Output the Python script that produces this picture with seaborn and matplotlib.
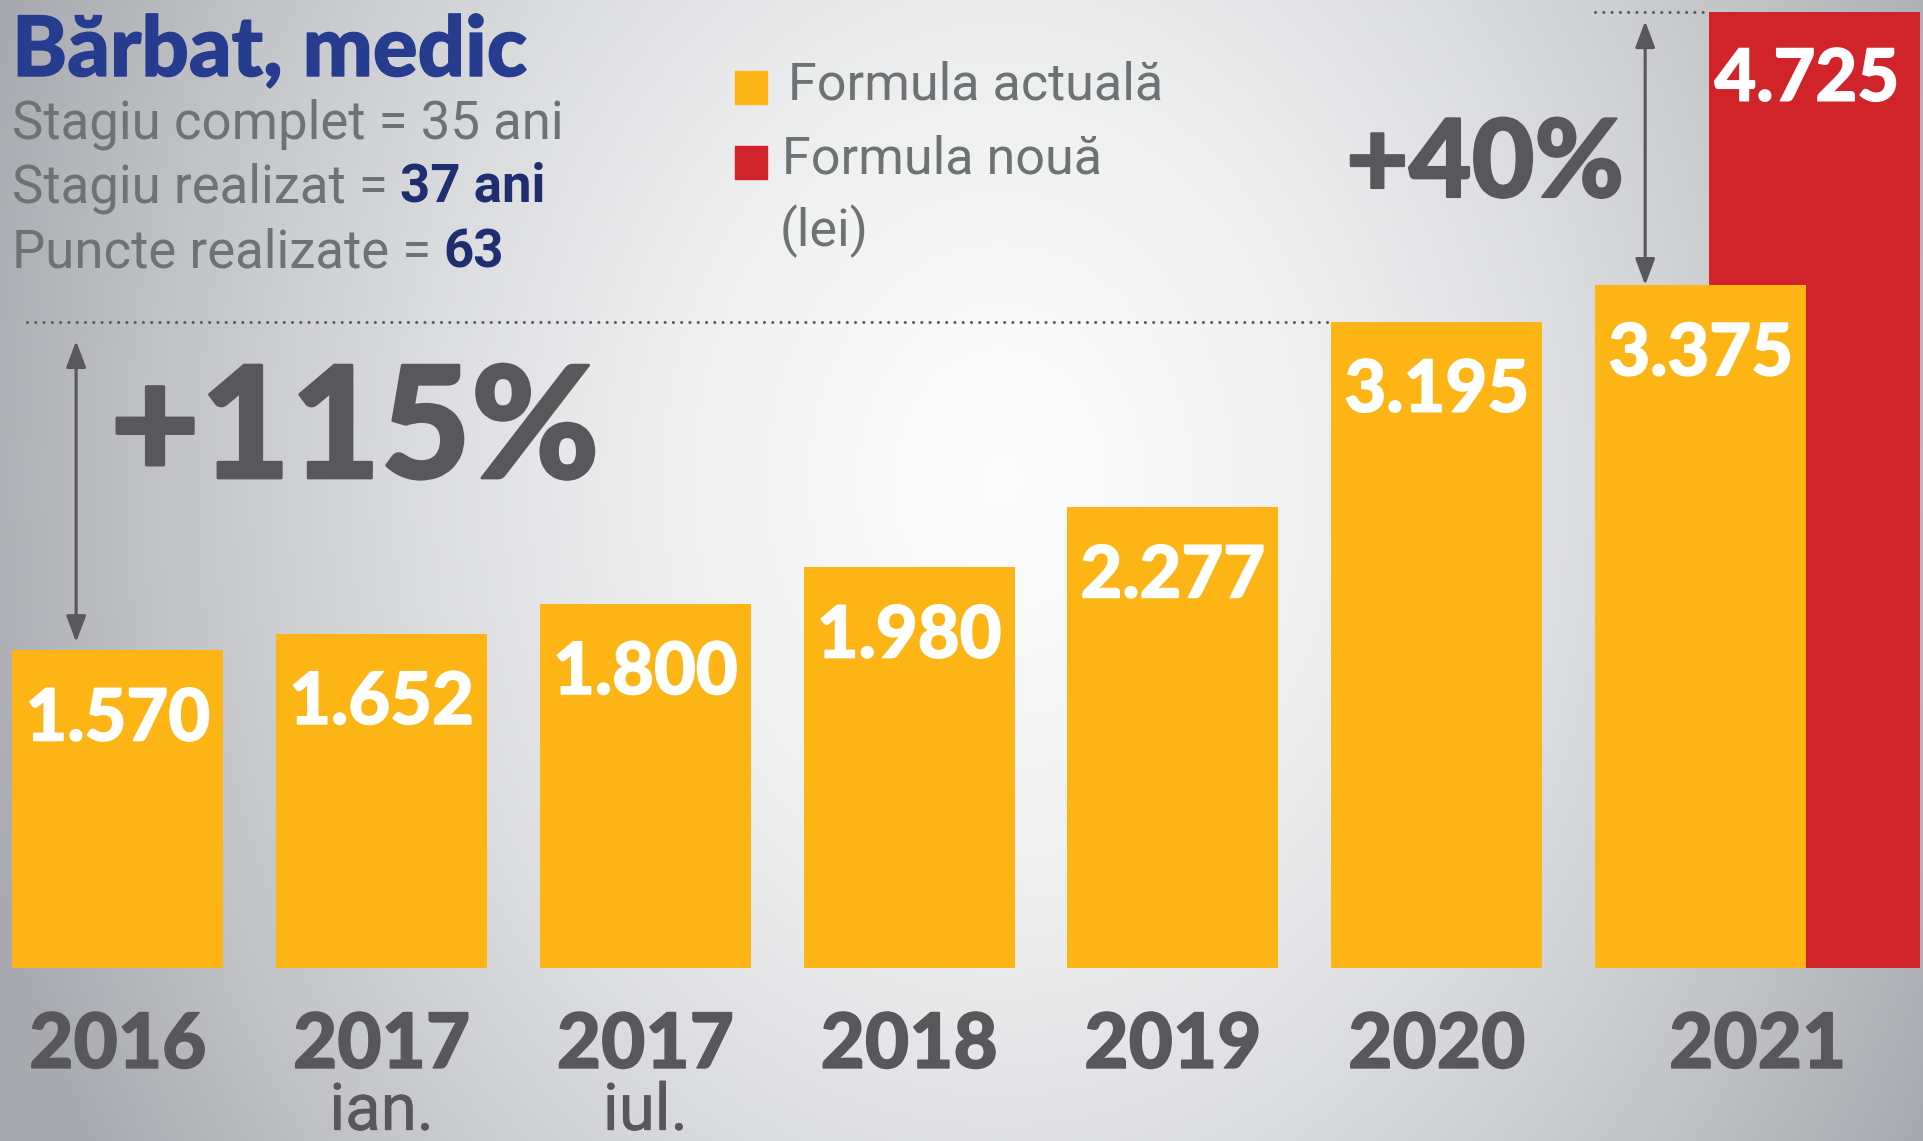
import numpy as np
import matplotlib
matplotlib.use("Agg")
import matplotlib.pyplot as plt
import matplotlib.patheffects as pe
import seaborn as sns
from matplotlib import font_manager

# date (lei)
perioade = ["2016", "2017 ian.", "2017 iul.", "2018", "2019", "2020", "2021"]
ani = ["2016", "2017", "2017", "2018", "2019", "2020", "2021"]
luni = ["", "ian.", "iul.", "", "", "", ""]
formula_actuala = [1570, 1652, 1800, 1980, 2277, 3195, 3375]
formula_noua = 4725

W, H = 1924, 1141
GALBEN = "#fdb515"
ROSU = "#d1232a"
GRI = "#58585a"
GRI_TEXT = "#6d7375"
ALBASTRU = "#253c8f"
BLEUMARIN = "#1f2e6e"

fonturi = font_manager.fontManager.ttflist
disponibile = {f.name for f in fonturi}


def alege(*nume):
    for n in nume:
        if n in disponibile:
            return n
    return "DejaVu Sans"


FONT = alege("Roboto", "Open Sans", "Noto Sans")
grele = [n for n in ("Lato", "Roboto", "Open Sans", "Noto Sans")
         if any(f.name == n and f.weight >= 800 for f in fonturi)]
FONT_GROS = grele[0] if grele else FONT
ingrosare = 1.0 if grele else 3.0


def eticheta(v):
    return f"{v:,}".replace(",", ".")


def P(x, y):
    # pixeli din stanga-sus -> coordonate figura
    return x / W, 1 - y / H


def gros(culoare, k=1.0):
    return [pe.withStroke(linewidth=ingrosare * k, foreground=culoare)]


sns.set_style("white")
plt.rcParams["font.family"] = [FONT, "DejaVu Sans"]

fig = plt.figure(figsize=(W / 100, H / 100), dpi=100)

# fundal in degrade gri
yy, xx = np.mgrid[0:H, 0:W]
d = np.sqrt(((xx - 1000) / 1050) ** 2 + ((yy - 480) / 1300) ** 2)
t = np.clip(d, 0, 1) ** 1.6
alb = np.array([0.985, 0.985, 0.985])
gri = np.array([0.66, 0.67, 0.69])
img = alb * (1 - t[..., None]) + gri * t[..., None]
bg = fig.add_axes([0, 0, 1, 1])
bg.imshow(img, aspect="auto")
bg.axis("off")

ax = fig.add_axes([0, 0, 1, 1], facecolor="none")
dx_rosu = 0.433
ax.bar(len(perioade) - 1 + dx_rosu, formula_noua, width=0.8, color=ROSU,
       linewidth=0, zorder=2)
sns.barplot(x=perioade, y=formula_actuala, color=GALBEN, saturation=1,
            width=0.8, linewidth=0, ax=ax, zorder=3)
ax.set_xlim(-0.4466, 6.847)
ax.set_ylim(-855, 4784)
ax.axis("off")

# valori in bare
for i, v in enumerate(formula_actuala):
    ax.annotate(eticheta(v), xy=(i, v), xytext=(0, -65), textcoords="offset points",
                ha="center", va="baseline", color="white", fontsize=52,
                family=FONT_GROS, fontweight=900, zorder=5,
                path_effects=gros("white"))
ax.annotate(eticheta(formula_noua), xy=(len(perioade) - 1 + dx_rosu - 0.03, formula_noua),
            xytext=(0, -64), textcoords="offset points", ha="center", va="baseline",
            color="white", fontsize=52, family=FONT_GROS, fontweight=900, zorder=5,
            path_effects=gros("white"))

# etichete ani
for i, (an, luna) in enumerate(zip(ani, luni)):
    x = i if i < len(ani) - 1 else i + dx_rosu / 2
    ax.text(x, -494, an, ha="center", va="baseline", fontsize=55,
            family=FONT_GROS, fontweight=900, color=GRI, path_effects=gros(GRI))
    if luna:
        ax.text(x, -800, luna, ha="center", va="baseline", fontsize=47,
                color=GRI, path_effects=gros(GRI, 0.4))

# linii punctate si sageti
punct = dict(color=GRI, linewidth=2.2, linestyle=(0, (0.01, 2.7)),
             dash_capstyle="round", zorder=4)
ax.plot([-0.345, 5 - 0.4], [formula_actuala[5]] * 2, **punct)
ax.plot([6 - 0.4, 6 + dx_rosu - 0.4], [formula_noua] * 2, **punct)

sageata = dict(arrowstyle="<|-|>,head_length=1.6,head_width=0.6", color=GRI,
               lw=2.2, shrinkA=0, shrinkB=0, mutation_scale=10)
ax.annotate("", xy=(-0.158, formula_actuala[0] + 40),
            xytext=(-0.158, formula_actuala[5] - 96), arrowprops=sageata)
ax.annotate("", xy=(5.79, formula_actuala[6]),
            xytext=(5.79, formula_noua - 45), arrowprops=sageata)

fig.text(*P(110, 478), "+115%", ha="left", va="baseline", fontsize=112,
         family=FONT_GROS, fontweight=900, color=GRI, path_effects=gros(GRI, 2))
fig.text(*P(1346, 197), "+40%", ha="left", va="baseline", fontsize=78,
         family=FONT_GROS, fontweight=900, color=GRI, path_effects=gros(GRI, 1.5))

# titlu si descriere
fig.text(*P(12, 76), "Bărbat, medic", ha="left", va="baseline", fontsize=60,
         family=FONT_GROS, fontweight=900, color=ALBASTRU,
         path_effects=gros(ALBASTRU))

renderer = fig.canvas.get_renderer()


def linie(y, parti):
    x = 12
    for text, bold in parti:
        t = fig.text(*P(x, y), text, ha="left", va="baseline", fontsize=38,
                     fontweight="bold" if bold else "normal",
                     color=BLEUMARIN if bold else GRI_TEXT)
        x = t.get_window_extent(renderer=renderer).x1 + 12


linie(138, [("Stagiu complet = 35 ani", False)])
linie(202, [("Stagiu realizat =", False), ("37 ani", True)])
linie(267, [("Puncte realizate =", False), ("63", True)])

# legenda
for y0, culoare in [(71, GALBEN), (146, ROSU)]:
    fig.patches.append(plt.Rectangle(P(735, y0 + 33), 32 / W, 33 / H,
                                     transform=fig.transFigure, color=culoare))
fig.text(*P(788, 99), "Formula actuală", ha="left", va="baseline", fontsize=37.5,
         color=GRI_TEXT)
fig.text(*P(782, 173), "Formula nouă", ha="left", va="baseline", fontsize=37.5,
         color=GRI_TEXT)
fig.text(*P(780, 246), "(lei)", ha="left", va="baseline", fontsize=37.5,
         color=GRI_TEXT)

fig.savefig("out.png", dpi=100)
